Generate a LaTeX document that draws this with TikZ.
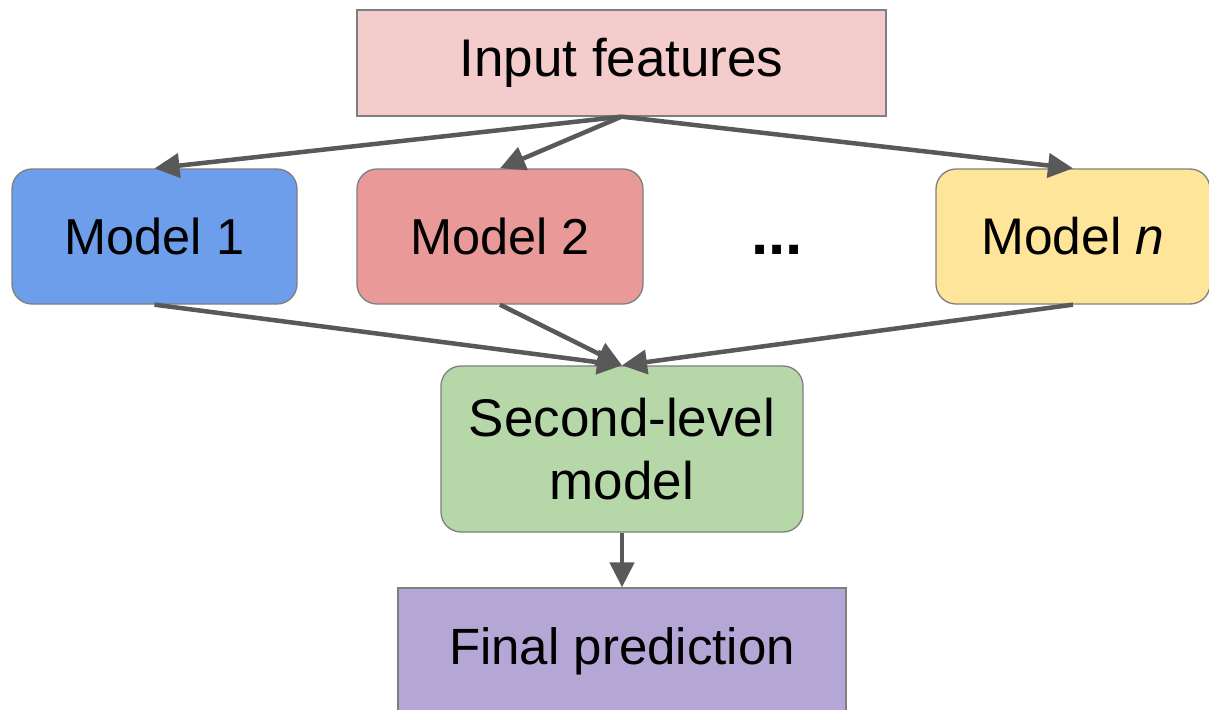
\documentclass[tikz,border=0pt]{standalone}
\usepackage{fontspec}
\setmainfont{Liberation Sans}
\usetikzlibrary{arrows.meta}
\definecolor{inputc}{HTML}{F4CCCC}
\definecolor{blue1}{HTML}{6D9EEB}
\definecolor{red2}{HTML}{EA9999}
\definecolor{yellown}{HTML}{FFE599}
\definecolor{green2}{HTML}{B6D7A8}
\definecolor{purple2}{HTML}{B4A7D6}
\definecolor{arrowc}{HTML}{595959}
\definecolor{borderc}{HTML}{7F7F7F}
\tikzset{
  x=1pt, y=1pt,
  box/.style={draw=borderc, line width=1.3pt, inner sep=0pt, align=center,
    font=\fontsize{50}{62}\selectfont},
  rbox/.style={box, rounded corners=20pt},
  conn/.style={draw=arrowc, line width=4.5pt, -{Triangle[length=25pt,width=24pt]}}
}
\begin{document}
\begin{tikzpicture}
\clip (0,0) rectangle (1209,-709);
\fill[white] (0,0) rectangle (1209,-709);
\node[box, fill=inputc, minimum width=529pt, minimum height=106pt, font=\fontsize{53}{62}\selectfont] (inp) at (621.5,-63) {Input features};
\node[rbox, fill=blue1, minimum width=285pt, minimum height=135pt, font=\fontsize{50.5}{62}\selectfont] (m1) at (154.5,-236.5) {Model 1};
\node[rbox, fill=red2, minimum width=286pt, minimum height=135pt, font=\fontsize{50.5}{62}\selectfont] (m2) at (500,-236.5) {Model 2};
\node[rbox, fill=yellown, minimum width=274pt, minimum height=135pt, font=\fontsize{51.5}{62}\selectfont] (mn) at (1073,-236.5) {Model \textit{n}};
\node[font=\fontsize{62}{70}\selectfont\bfseries, inner sep=0pt] (dots) at (777,-250) {...};
\node[rbox, fill=green2, minimum width=362pt, minimum height=166pt, font=\fontsize{53}{63}\selectfont] (sec) at (622,-449) {Second-level\\model};
\node[box, fill=purple2, minimum width=448pt, minimum height=126pt, font=\fontsize{51}{62}\selectfont] (fin) at (622,-651) {Final prediction};
\draw[conn] (inp.south) -- (m1.north);
\draw[conn] (inp.south) -- (m2.north);
\draw[conn] (inp.south) -- (mn.north);
\draw[conn] (m1.south) -- (sec.north);
\draw[conn] (m2.south) -- (sec.north);
\draw[conn] (mn.south) -- (sec.north);
\draw[conn] (sec.south) -- (fin.north);
\end{tikzpicture}
\end{document}
